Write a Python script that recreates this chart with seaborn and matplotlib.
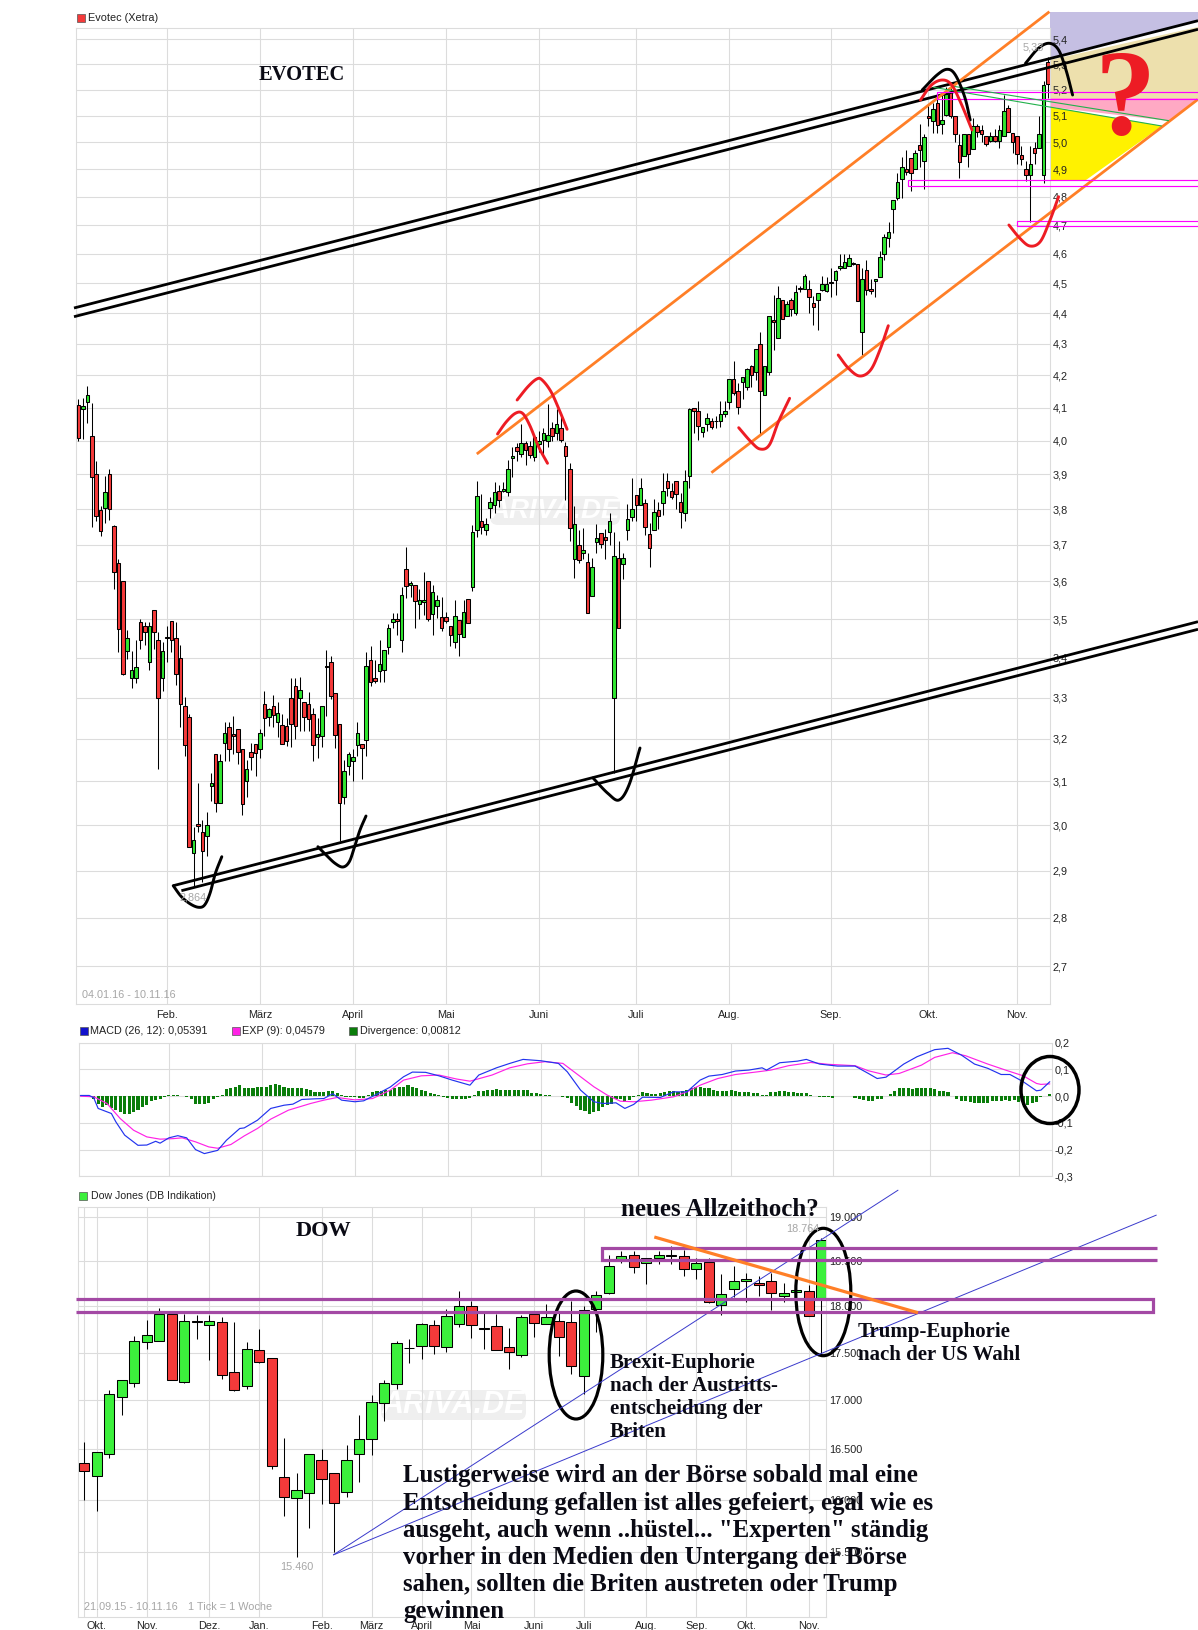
"""Evotec / MACD / Dow Jones candle charts with hand-drawn markup on top."""

import matplotlib
import numpy as np
import pandas as pd
import seaborn as sns

matplotlib.use("Agg")
import matplotlib.pyplot as plt  # noqa: E402
from matplotlib.patches import Ellipse, FancyBboxPatch, Polygon, Rectangle  # noqa: E402
from matplotlib.ticker import NullLocator  # noqa: E402

WIDTH, HEIGHT = 1198, 1630

# Evotec daily candles
evotec_open = [
    4.109, 4.097, 4.118, 4.015, 3.9, 3.797, 3.803, 3.9, 3.752, 3.649,
    3.6, 3.418, 3.35, 3.35, 3.492, 3.482, 3.39, 3.524, 3.445, 3.35,
    3.454, 3.495, 3.45, 3.4, 3.28, 3.253, 2.938, 3.002, 2.986, 2.977,
    3.09, 3.165, 3.05, 3.19, 3.228, 3.212, 3.223, 3.177, 3.1, 3.168,
    3.187, 3.176, 3.286, 3.254, 3.279, 3.24, 3.233, 3.231, 3.3, 3.33,
    3.3, 3.29, 3.285, 3.26, 3.205, 3.208, 3.38, 3.39, 3.312, 3.237,
    3.063, 3.137, 3.148, 3.185, 3.187, 3.197, 3.394, 3.35, 3.367, 3.37,
    3.428, 3.492, 3.5, 3.447, 3.635, 3.59, 3.59, 3.539, 3.545, 3.6,
    3.513, 3.535, 3.505, 3.505, 3.482, 3.44, 3.499, 3.453, 3.552, 3.585,
    3.74, 3.766, 3.74, 3.803, 3.811, 3.851, 3.851, 3.849, 3.948, 3.98,
    3.96, 3.992, 3.983, 3.95, 3.99, 4.001, 4.0, 4.037, 4.022, 4.037,
    3.983, 3.915, 3.662, 3.7, 3.678, 3.652, 3.56, 3.708, 3.734, 3.722,
    3.737, 3.3, 3.665, 3.648, 3.74, 3.777, 3.84, 3.811, 3.817, 3.73,
    3.74, 3.797, 3.817, 3.88, 3.851, 3.88, 3.82, 3.79, 3.895, 4.1,
    4.09, 4.025, 4.05, 4.058, 4.06, 4.058, 4.08, 4.118, 4.19, 4.15,
    4.178, 4.163, 4.23, 4.21, 4.3, 4.14, 4.21, 4.378, 4.32, 4.445,
    4.39, 4.445, 4.4, 4.485, 4.48, 4.48, 4.435, 4.445, 4.477, 4.475,
    4.505, 4.51, 4.55, 4.553, 4.557, 4.569, 4.565, 4.34, 4.545, 4.479,
    4.507, 4.52, 4.6, 4.655, 4.757, 4.797, 4.865, 4.9, 4.94, 4.9,
    4.99, 4.93, 5.1, 5.08, 5.15, 5.07, 5.105, 5.19, 5.1, 4.99,
    4.95, 5.032, 4.975, 5.06, 5.045, 5.025, 5.005, 5.025, 5.005, 5.025,
    5.13, 5.033, 5.025, 4.952, 4.9, 4.88, 4.98, 4.98, 4.88, 5.31,
]
evotec_close = [
    4.008, 4.106, 4.14, 3.892, 3.78, 3.738, 3.849, 3.8, 3.626, 3.474,
    3.36, 3.45, 3.37, 3.378, 3.447, 3.466, 3.482, 3.466, 3.3, 3.418,
    3.45, 3.445, 3.36, 3.286, 3.185, 2.951, 2.968, 2.998, 2.942, 3.0,
    3.097, 3.05, 3.148, 3.215, 3.176, 3.207, 3.168, 3.048, 3.128, 3.158,
    3.166, 3.214, 3.25, 3.273, 3.257, 3.262, 3.187, 3.194, 3.235, 3.231,
    3.319, 3.254, 3.248, 3.185, 3.212, 3.28, 3.376, 3.304, 3.21, 3.05,
    3.124, 3.165, 3.158, 3.214, 3.178, 3.38, 3.34, 3.342, 3.384, 3.42,
    3.478, 3.5, 3.494, 3.565, 3.587, 3.595, 3.548, 3.55, 3.55, 3.5,
    3.572, 3.55, 3.476, 3.495, 3.459, 3.508, 3.462, 3.52, 3.49, 3.736,
    3.837, 3.749, 3.757, 3.82, 3.849, 3.826, 3.857, 3.915, 3.955, 3.968,
    3.992, 3.971, 3.956, 4.01, 4.0, 4.022, 4.016, 4.013, 4.05, 4.003,
    3.953, 3.746, 3.757, 3.658, 3.686, 3.515, 3.64, 3.72, 3.703, 3.714,
    3.766, 3.67, 3.477, 3.665, 3.772, 3.8, 3.811, 3.86, 3.749, 3.69,
    3.792, 3.78, 3.851, 3.86, 3.834, 3.843, 3.792, 3.88, 4.095, 4.09,
    4.044, 4.04, 4.067, 4.04, 4.058, 4.08, 4.09, 4.19, 4.146, 4.103,
    4.194, 4.22, 4.2, 4.285, 4.15, 4.23, 4.39, 4.37, 4.45, 4.38,
    4.43, 4.415, 4.47, 4.481, 4.525, 4.455, 4.42, 4.467, 4.497, 4.497,
    4.501, 4.54, 4.557, 4.573, 4.585, 4.565, 4.44, 4.513, 4.477, 4.475,
    4.513, 4.59, 4.657, 4.675, 4.79, 4.855, 4.91, 4.89, 4.885, 4.96,
    4.97, 5.02, 5.09, 5.125, 5.065, 5.085, 5.185, 5.1, 5.03, 4.925,
    5.032, 4.955, 5.06, 5.04, 5.03, 4.995, 5.025, 5.005, 5.048, 5.118,
    5.04, 5.0, 4.957, 4.937, 4.88, 4.918, 4.96, 5.03, 5.22, 5.224,
]
evotec_high = [
    4.127, 4.13, 4.168, 4.113, 3.94, 3.81, 3.895, 3.915, 3.755, 3.66,
    3.6, 3.472, 3.418, 3.445, 3.5, 3.492, 3.492, 3.524, 3.466, 3.44,
    3.483, 3.495, 3.492, 3.432, 3.303, 3.26, 2.997, 3.096, 3.012, 3.03,
    3.12, 3.165, 3.165, 3.24, 3.24, 3.255, 3.223, 3.177, 3.15, 3.19,
    3.187, 3.225, 3.318, 3.275, 3.306, 3.29, 3.26, 3.25, 3.35, 3.35,
    3.352, 3.29, 3.315, 3.275, 3.25, 3.28, 3.42, 3.406, 3.312, 3.237,
    3.15, 3.17, 3.175, 3.24, 3.187, 3.415, 3.43, 3.395, 3.445, 3.42,
    3.487, 3.515, 3.515, 3.585, 3.693, 3.6, 3.59, 3.58, 3.625, 3.6,
    3.59, 3.565, 3.558, 3.52, 3.482, 3.55, 3.499, 3.55, 3.552, 3.755,
    3.88, 3.843, 3.775, 3.836, 3.879, 3.87, 3.879, 3.943, 3.98, 3.992,
    4.05, 4.0, 4.0, 4.017, 4.03, 4.037, 4.11, 4.055, 4.095, 4.072,
    3.995, 3.935, 3.81, 3.742, 3.748, 3.678, 3.665, 3.757, 3.734, 3.745,
    3.79, 3.735, 3.71, 3.678, 3.814, 3.89, 3.84, 3.89, 3.83, 3.76,
    3.83, 3.82, 3.903, 3.903, 3.875, 3.88, 3.845, 3.913, 4.1, 4.1,
    4.12, 4.042, 4.085, 4.067, 4.075, 4.12, 4.12, 4.19, 4.245, 4.175,
    4.194, 4.223, 4.233, 4.285, 4.34, 4.23, 4.39, 4.46, 4.49, 4.445,
    4.44, 4.45, 4.495, 4.49, 4.53, 4.51, 4.456, 4.467, 4.525, 4.52,
    4.55, 4.545, 4.6, 4.6, 4.6, 4.572, 4.565, 4.55, 4.578, 4.513,
    4.513, 4.61, 4.67, 4.71, 4.79, 4.885, 4.945, 4.97, 4.94, 4.97,
    5.07, 5.03, 5.145, 5.15, 5.17, 5.185, 5.21, 5.23, 5.1, 5.03,
    5.032, 5.03, 5.09, 5.07, 5.065, 5.025, 5.04, 5.05, 5.065, 5.18,
    5.14, 5.033, 5.025, 4.985, 4.93, 4.985, 5.0, 5.1, 5.235, 5.33,
]
evotec_low = [
    3.999, 4.004, 4.053, 3.75, 3.768, 3.725, 3.76, 3.77, 3.58, 3.415,
    3.357, 3.397, 3.325, 3.338, 3.423, 3.433, 3.37, 3.423, 3.13, 3.317,
    3.39, 3.415, 3.332, 3.228, 3.16, 2.951, 2.864, 2.986, 2.875, 2.932,
    3.055, 3.03, 3.05, 3.148, 3.148, 3.165, 3.14, 3.023, 3.065, 3.126,
    3.113, 3.155, 3.207, 3.231, 3.228, 3.204, 3.187, 3.183, 3.18, 3.2,
    3.22, 3.218, 3.22, 3.148, 3.155, 3.18, 3.255, 3.298, 3.178, 2.965,
    3.048, 3.115, 3.1, 3.16, 3.106, 3.16, 3.33, 3.338, 3.34, 3.34,
    3.41, 3.477, 3.46, 3.415, 3.555, 3.558, 3.477, 3.5, 3.512, 3.494,
    3.46, 3.503, 3.468, 3.49, 3.43, 3.425, 3.406, 3.453, 3.49, 3.575,
    3.722, 3.73, 3.727, 3.775, 3.789, 3.806, 3.85, 3.837, 3.893, 3.94,
    3.95, 3.928, 3.948, 3.94, 3.965, 3.957, 3.98, 4.0, 4.003, 3.995,
    3.827, 3.71, 3.61, 3.65, 3.66, 3.515, 3.56, 3.678, 3.69, 3.66,
    3.7, 3.12, 3.477, 3.608, 3.713, 3.767, 3.767, 3.811, 3.728, 3.64,
    3.74, 3.743, 3.783, 3.838, 3.829, 3.8, 3.746, 3.767, 3.86, 4.022,
    4.003, 4.012, 4.028, 4.035, 4.037, 4.04, 4.07, 4.097, 4.14, 4.08,
    4.128, 4.155, 4.165, 4.185, 4.02, 4.14, 4.2, 4.28, 4.32, 4.38,
    4.39, 4.39, 4.395, 4.47, 4.48, 4.4, 4.36, 4.345, 4.475, 4.47,
    4.455, 4.46, 4.546, 4.55, 4.557, 4.563, 4.44, 4.265, 4.46, 4.465,
    4.455, 4.52, 4.58, 4.625, 4.672, 4.79, 4.797, 4.88, 4.82, 4.9,
    4.91, 4.83, 5.06, 5.035, 5.035, 5.03, 5.1, 5.09, 5.0, 4.87,
    4.95, 4.91, 4.975, 5.02, 5.0, 4.985, 5.0, 5.0, 4.98, 5.025,
    5.04, 4.96, 4.92, 4.917, 4.857, 4.71, 4.92, 4.98, 4.85, 5.17,
]
evotec_tick_days = [20, 41, 62, 83, 104, 126, 147, 170, 192, 212]
evotec_tick_labels = ["Feb.", "März", "April", "Mai", "Juni", "Juli", "Aug.", "Sep.", "Okt.", "Nov."]
evotec_price_ticks = [5.4, 5.3, 5.2, 5.1, 5.0, 4.9, 4.8, 4.7, 4.6, 4.5, 4.4, 4.3, 4.2, 4.1,
                      4.0, 3.9, 3.8, 3.7, 3.6, 3.5, 3.4, 3.3, 3.2, 3.1, 3.0, 2.9, 2.8, 2.7]

# MACD panel
macd_days = [0, 2, 3, 4, 7, 8, 10, 13, 15, 17, 18, 20, 22, 24, 26, 28, 31, 33, 36, 37,
             40, 43, 46, 48, 50, 53, 55, 57, 59, 62, 64, 67, 70, 73, 75, 78, 81, 84, 88, 90,
             94, 97, 100, 104, 108, 110, 113, 116, 118, 121, 123, 125, 127, 131, 134, 137, 140, 142, 145, 148,
             151, 154, 155, 158, 162, 164, 167, 171, 175, 178, 180, 182, 186, 189, 193, 196, 199, 202, 205, 208,
             210, 213, 216, 217, 219]
macd_values = [.0025, .0025, -.006, -.046, -.065, -.096, -.146, -.184, -.183, -.169,
               -.176, -.156, -.148, -.156, -.2, -.215, -.203, -.165, -.121, -.119,
               -.09, -.046, -.034, -.03, -.0125, -.01, -.009, .009, -.015, -.021,
               -.0175, .0075, .034, .0725, .09, .089, .076, .06, .041, .079,
               .106, .1225, .1375, .1325, .1225, .091, .0225, -.021, -.0275, -.025,
               -.046, -.031, -.004, -.005, .016, .016, .06, .075, .081, .094,
               .0975, .106, .0975, .125, .131, .1375, .12, .1125, .1125, .085,
               .066, .071, .12, .1475, .174, .179, .154, .12, .104, .081,
               .081, .054, .02, .0225, .05391]
exp_days = [0, 3, 6, 9, 12, 15, 18, 21, 23, 26, 29, 31, 34, 37, 40, 43, 47, 52, 55, 58,
            62, 66, 70, 73, 77, 81, 85, 88, 93, 97, 101, 105, 109, 112, 116, 119, 122, 125, 129, 134,
            137, 140, 144, 148, 153, 156, 160, 165, 169, 175, 178, 182, 185, 190, 193, 197, 200, 205, 209, 213,
            216, 217, 219]
exp_values = [0, -.0025, -.0275, -.084, -.1275, -.1525, -.161, -.159, -.156, -.171,
              -.19, -.195, -.181, -.149, -.121, -.086, -.0525, -.0275, -.015, -.005,
              -.014, -.009, .0225, .06, .076, .079, .064, .056, .079, .106,
              .121, .129, .1225, .085, .035, .004, -.019, -.021, -.015, -.0025,
              .016, .041, .066, .081, .091, .0975, .114, .126, .119, .114,
              .095, .079, .085, .116, .145, .1625, .151, .12, .0975, .076,
              .0475, .044, .04579]
divergence_values = [
    0, 0, -.001, -.012, -.03, -.04, -.035, -.045, -.05, -.058,
    -.068, -.065, -.06, -.05, -.04, -.035, -.02, -.015, -.012, -.005,
    .003, .005, .004, .002, -.003, -.012, -.03, -.03, -.028, -.025,
    -.01, -.003, .004, .025, .032, .036, .04, .03, .032, .032,
    .034, .036, .036, .042, .044, .04, .034, .03, .03, .03,
    .03, .026, .022, .016, .014, .014, .02, .018, .01, .003,
    -.003, -.005, -.005, -.006, -.006, .005, .015, .018, .02, .024,
    .024, .03, .036, .036, .04, .036, .03, .024, .02, .012,
    .008, .003, -.003, -.006, -.01, -.012, -.012, -.01, -.006, .005,
    .018, .02, .022, .024, .025, .022, .022, .022, .022, .022,
    .022, .022, .012, .01, .008, .004, .004, .002, 0, -.002,
    -.008, -.024, -.036, -.05, -.055, -.065, -.06, -.055, -.04, -.035,
    -.03, -.012, -.012, -.022, -.015, -.005, .005, .016, .01, .008,
    .008, .01, .016, .02, .02, .015, .02, .024, .03, .035,
    .035, .032, .03, .024, .02, .018, .02, .024, .02, .014,
    .014, .015, .012, .012, .005, .004, .014, .014, .02, .018,
    .014, .014, .012, .012, .01, .006, .002, -.002, -.004, -.004,
    -.006, 0, .001, .002, .002, -.008, -.012, -.016, -.018, -.02,
    -.012, -.01, 0, .008, .02, .03, .03, .03, .028, .03,
    .03, .032, .03, .025, .02, .018, .015, .001, -.012, -.018,
    -.02, -.022, -.024, -.024, -.024, -.024, -.02, -.018, -.018, -.015,
    -.018, -.016, -.022, -.035, -.034, -.026, -.022, -.004, .002, .00812,
]
macd_ticks = [0.2, 0.1, 0.0, -0.1, -0.2, -0.3]
macd_tick_labels = ["0,2", "0,1", "0,0", "-0,1", "-0,2", "-0,3"]

# Dow Jones weekly candles
dow_open = [
    16363, 16235, 16451, 17035, 17175, 17609, 17620, 17915, 17193, 17836,
    17795, 17830, 17290, 17145, 17533, 17447, 16225, 16020, 16070, 16390,
    16265, 16080, 16450, 16600, 16975, 17165, 17553, 17575, 17795, 17555,
    17805, 18005, 17763, 17785, 17555, 17480, 17915, 17805, 17840, 17830,
    17250, 17970, 18150, 18530, 18575, 18475, 18540, 18575, 18555, 18410,
    18495, 18015, 18190, 18280, 18255, 18280, 18115, 18155, 18170, 18090,
]
dow_close = [
    16281, 16470, 17070, 17206, 17620, 17686, 17915, 17213, 17840, 17830,
    17835, 17260, 17110, 17540, 17405, 16330, 16030, 16097, 16450, 16207,
    15970, 16390, 16610, 16987, 17175, 17600, 17547, 17805, 17575, 17895,
    18005, 17795, 17757, 17530, 17510, 17885, 17815, 17885, 17665, 17355,
    17955, 18120, 18450, 18555, 18440, 18540, 18565, 18555, 18410, 18485,
    18050, 18135, 18280, 18300, 18235, 18145, 18145, 18180, 17895, 18740,
]
dow_high = [
    16574, 16470, 17105, 17206, 17680, 17850, 17982, 17915, 17915, 17905,
    17910, 17885, 17830, 17610, 17755, 17447, 16620, 16270, 16450, 16500,
    16270, 16540, 16850, 17060, 17215, 17625, 17650, 17815, 17850, 17965,
    18170, 18060, 17925, 17915, 17765, 17900, 17945, 18020, 17945, 18060,
    18000, 18170, 18575, 18620, 18620, 18540, 18620, 18670, 18625, 18540,
    18540, 18360, 18450, 18365, 18330, 18370, 18255, 18255, 18235, 18764,
]
dow_low = [
    16003, 15897, 16418, 16850, 17133, 17540, 17620, 17206, 17175, 17650,
    17420, 17225, 17100, 17113, 17390, 16307, 15850, 15460, 15730, 15960,
    15500, 16025, 16180, 16445, 16790, 17120, 17390, 17430, 17485, 17505,
    17780, 17660, 17540, 17530, 17330, 17455, 17670, 17805, 17465, 17275,
    17070, 17720, 18135, 18475, 18370, 18250, 18465, 18465, 18330, 18300,
    18035, 17910, 18100, 18045, 18110, 17955, 18045, 17990, 17895, 17490,
]
dow_grid_weeks = [0, 1, 5, 10, 14, 19, 23, 27, 31, 36, 40, 45, 49, 53, 58]
dow_tick_labels = ["", "Okt.", "Nov.", "Dez.", "Jan.", "Feb.", "März", "April", "Mai", "Juni", "Juli",
                   "Aug.", "Sep.", "Okt.", "Nov."]
dow_price_ticks = [19000, 18500, 18000, 17500, 17000, 16500, 16000, 15500]
dow_price_labels = ["19.000", "18.500", "18.000", "17.500", "17.000", "16.500", "16.000", "15.500"]

# Text written onto the charts
comment_lines = [
    "Lustigerweise wird an der Börse sobald mal eine",
    "Entscheidung gefallen ist alles gefeiert, egal wie es",
    "ausgeht, auch wenn ..hüstel... \"Experten\" ständig",
    "vorher in den Medien den Untergang der Börse",
    "sahen, sollten die Briten austreten oder Trump",
    "gewinnen",
]
brexit_lines = ["Brexit-Euphorie", "nach der Austritts-", "entscheidung der", "Briten"]
trump_lines = ["Trump-Euphorie", "nach der US Wahl"]

RED = "#F43A3A"
GREEN = "#30E630"
DOW_GREEN = "#3CF03C"
GRID = "#DCDCDC"
TEXT = "#222222"
GRAY = "#A6A6A6"
ORANGE = "#FF7F27"
DRAW_RED = "#ED1C24"
MAGENTA = "#FF00FF"
PURPLE = "#A349A4"
LINE_BLUE = "#3A3ACC"
SERIF = "Liberation Serif"


def panel_axes(figure, left, top, right, bottom):
    """Add axes placed by pixel edges."""
    axis = figure.add_axes([
        left / WIDTH,
        1 - bottom / HEIGHT,
        (right - left) / WIDTH,
        (bottom - top) / HEIGHT,
    ])
    axis.set_zorder(2)
    axis.patch.set_alpha(0)
    axis.grid(True, color=GRID, linewidth=0.8)
    axis.set_axisbelow(True)
    for spine in axis.spines.values():
        spine.set_color(GRID)
        spine.set_linewidth(0.8)
    axis.yaxis.tick_right()
    axis.tick_params(length=0, labelsize=7.8, labelcolor=TEXT, pad=2)
    return axis


def draw_candles(axis, opens, highs, lows, closes, up_color, width):
    """Draw wicks and bodies from open/high/low/close lists."""
    frame = pd.DataFrame({"open": opens, "high": highs, "low": lows, "close": closes})
    frame["day"] = np.arange(len(frame))
    axis.vlines(frame["day"], frame["low"], frame["high"], color="black", linewidth=0.75, zorder=3)
    colors = [up_color if c >= o else RED for o, c in zip(frame["open"], frame["close"])]
    bottoms = frame[["open", "close"]].min(axis=1)
    heights = (frame["open"] - frame["close"]).abs()
    axis.bar(frame["day"], heights, bottom=bottoms, width=width, color=colors,
             edgecolor="black", linewidth=0.75, zorder=4)


def log_price_axis(axis, ticks, labels, limits):
    axis.set_yscale("log")
    axis.set_ylim(*limits)
    axis.set_yticks(ticks)
    axis.set_yticklabels(labels)
    axis.yaxis.set_minor_locator(NullLocator())
    axis.xaxis.set_minor_locator(NullLocator())


def swatch(axis, x, y, color, size=7.5):
    axis.add_patch(Rectangle((x, y - size / 2), size, size, facecolor=color, edgecolor="#555555",
                             linewidth=0.5))


def watermark(axis, x0, y0, x1, y1, fontsize):
    axis.add_patch(FancyBboxPatch((x0, y0), x1 - x0, y1 - y0, boxstyle="round,pad=0,rounding_size=8",
                                  facecolor="#EFEFEF", edgecolor="none"))
    axis.text((x0 + x1) / 2, (y0 + y1) / 2, "ARIVA.DE", color="white", fontsize=fontsize, style="italic",
              weight="bold", ha="center", va="center", family="Liberation Sans")


def smooth_path(points, steps=12):
    """Round a hand-drawn stroke through its anchor points (Catmull-Rom)."""
    pts = np.array(points, dtype=float)
    pts = np.vstack([2 * pts[0] - pts[1], pts, 2 * pts[-1] - pts[-2]])
    curve = []
    for p0, p1, p2, p3 in zip(pts[:-3], pts[1:-2], pts[2:-1], pts[3:]):
        for t in np.linspace(0, 1, steps, endpoint=False):
            curve.append(0.5 * (2 * p1 + (p2 - p0) * t + (2 * p0 - 5 * p1 + 4 * p2 - p3) * t ** 2
                                + (3 * p1 - p0 - 3 * p2 + p3) * t ** 3))
    curve.append(pts[-2])
    return np.array(curve)


def main():
    sns.set_theme(style="white")
    plt.rcParams["font.family"] = ["Liberation Sans", "DejaVu Sans"]
    figure = plt.figure(figsize=(WIDTH / 100, HEIGHT / 100), dpi=100, facecolor="white")

    # background layer: coloured zones and watermarks
    back = figure.add_axes([0, 0, 1, 1])
    back.set_xlim(0, WIDTH)
    back.set_ylim(HEIGHT, 0)
    back.axis("off")
    back.set_zorder(0)
    back.add_patch(Polygon([(1050, 12), (1198, 12), (1198, 21), (1050, 58)], facecolor="#C5BFE3", edgecolor="none"))
    back.add_patch(Polygon([(1050, 60), (1198, 27), (1198, 98), (1050, 98)], facecolor="#EDE0AD", edgecolor="none"))
    back.add_patch(Polygon([(1050, 98), (1198, 98), (1169, 121), (1050, 107)], facecolor="#FFA9C4", edgecolor="none"))
    back.add_patch(Polygon([(1051, 107), (1162, 126), (1086, 180), (1051, 180)], facecolor="#FFF200", edgecolor="none"))
    watermark(back, 490, 496, 620, 525, 20)
    watermark(back, 381, 1390, 526, 1420, 22)

    # Evotec
    top = panel_axes(figure, 76.4, 28.3, 1050, 1004.3)
    draw_candles(top, evotec_open, evotec_high, evotec_low, evotec_close, GREEN, 0.8)
    log_price_axis(top, evotec_price_ticks, [f"{v:.1f}".replace(".", ",") for v in evotec_price_ticks],
                   (2.624, 5.445))
    top.set_xlim(-0.47, 219.45)
    top.set_xticks(evotec_tick_days)
    top.set_xticklabels(evotec_tick_labels)
    top.tick_params(axis="x", pad=4)

    # MACD
    mid = panel_axes(figure, 78.6, 1042.7, 1052, 1176.3)
    bars = pd.DataFrame({"day": np.arange(len(divergence_values)), "value": divergence_values})
    sns.barplot(data=bars, x="day", y="value", native_scale=True, color="#0A7D0A", saturation=1,
                width=0.7, linewidth=0, errorbar=None, ax=mid, zorder=3)
    sns.lineplot(x=exp_days, y=exp_values, color="#FF22E6", linewidth=0.85, errorbar=None, ax=mid, zorder=4)
    sns.lineplot(x=macd_days, y=macd_values, color="#2233EE", linewidth=0.85, errorbar=None, ax=mid, zorder=5)
    mid.set_xlim(-0.41, 219.5)
    mid.set_ylim(-0.3, 0.2)
    mid.set_yticks(macd_ticks)
    mid.set_yticklabels(macd_tick_labels)
    mid.set_xticks(evotec_tick_days)
    mid.set_xticklabels([])
    mid.set_xlabel("")
    mid.set_ylabel("")

    # Dow Jones
    low = panel_axes(figure, 78.2, 1206.7, 826.4, 1616.7)
    draw_candles(low, dow_open, dow_high, dow_low, dow_close, DOW_GREEN, 0.82)
    log_price_axis(low, dow_price_ticks, dow_price_labels, (14905, 19123))
    low.set_xlim(-0.488, 59.42)
    low.set_xticks(dow_grid_weeks)
    low.set_xticklabels(dow_tick_labels)
    low.tick_params(axis="x", pad=3)

    # markup layer in pixel coordinates
    draw = figure.add_axes([0, 0, 1, 1])
    draw.set_xlim(0, WIDTH)
    draw.set_ylim(HEIGHT, 0)
    draw.axis("off")
    draw.set_zorder(5)
    draw.patch.set_alpha(0)

    def stroke(points, color="black", width=2.0):
        xs, ys = zip(*points)
        draw.plot(xs, ys, color=color, linewidth=width, solid_capstyle="butt", solid_joinstyle="miter")

    def arc(points, color="black", width=2.1):
        curve = smooth_path(points)
        draw.plot(curve[:, 0], curve[:, 1], color=color, linewidth=width, solid_capstyle="round")

    def label(x, y, text, size=7.8, color=TEXT, **kwargs):
        draw.text(x, y, text, fontsize=size, color=color, va="center", **kwargs)

    def serif(x, y, text, size):
        draw.text(x, y + 2.5, text, fontsize=size, color="#0A0A14", family=SERIF, weight="bold", va="center")

    # panel captions
    swatch(draw, 77, 18, RED)
    label(88.5, 18, "Evotec (Xetra)")
    swatch(draw, 80, 1031, "#1111CC")
    label(90.5, 1031, "MACD (26, 12): 0,05391")
    swatch(draw, 232, 1031, "#FF22E6")
    label(242.5, 1031, "EXP (9): 0,04579")
    swatch(draw, 349, 1031, "#0A7D0A")
    label(359.7, 1031, "Divergence: 0,00812")
    swatch(draw, 79, 1196, DOW_GREEN)
    label(91, 1196, "Dow Jones (DB Indikation)", size=7.6)

    label(82, 995, "04.01.16 - 10.11.16", color=GRAY)
    label(84.3, 1607, "21.09.15 - 10.11.16", color=GRAY)
    label(187.5, 1607, "1 Tick = 1 Woche", color=GRAY)
    label(193, 898, "2,864", color=GRAY, ha="center")
    label(1033, 47, "5,33", color=GRAY, ha="center")
    label(296.4, 1567, "15.460", color=GRAY, ha="center")
    label(803, 1229, "18.764", color=GRAY, ha="center")

    # Evotec trend channels
    stroke([(74, 308), (1198, 20.7)])
    stroke([(74, 316.7), (1198, 29.3)])
    stroke([(173.2, 885.7), (1198, 621.7)])
    stroke([(181.4, 890.7), (1198, 629.3)])
    stroke([(476.8, 454), (1049.4, 11.7)], color=ORANGE)
    stroke([(711.4, 472.7), (1198, 99.3)], color=ORANGE)

    # support and resistance boxes
    for x0, y0, y1 in [(937, 92.3, 98.7), (907.5, 180.3, 185.7), (1017.3, 221.3, 226.3)]:
        stroke([(1198, y0), (x0, y0), (x0, y1), (1198, y1)], color=MAGENTA, width=0.85)
    stroke([(933.3, 87.3), (1161.8, 126)], color="#22B14C", width=0.8)
    stroke([(951.7, 86), (1169, 120.7)], color="#22B14C", width=0.8)

    # hand-drawn arcs
    arc([(173.2, 885.7), (181.4, 896.7), (190.4, 904), (198.6, 907.3), (204.6, 905),
         (210, 893.3), (215.4, 873.3), (221.8, 856.7)])
    arc([(317.9, 846.7), (326.1, 855), (335, 863.3), (342.9, 867), (349.3, 861.7),
         (354.6, 846.7), (360, 830), (366, 816)])
    arc([(593, 778), (608, 793.5), (619, 800), (629, 785), (640, 748)])
    arc([(922.2, 90), (937, 75), (947.3, 69.3), (955.4, 75), (964.6, 96.7), (970.2, 120)])
    arc([(1025.5, 63.3), (1038.4, 48.3), (1049.4, 43.3), (1058.6, 50), (1066, 70), (1072.6, 95)])
    arc([(497.5, 434), (506.4, 421.7), (515.4, 413.3), (522.5, 413.3), (529.6, 425),
         (538.6, 446.7), (547.5, 463.3)], color=DRAW_RED)
    arc([(517.1, 400), (527.9, 386.7), (536.8, 379), (542.1, 380), (551, 391.7),
         (560, 411.7), (567.1, 429.3)], color=DRAW_RED)
    arc([(738.7, 427.7), (750.9, 441.7), (760, 449), (769.3, 445), (778.5, 421.7),
         (789.6, 398.3)], color=DRAW_RED)
    arc([(838.2, 355), (848.5, 368.3), (859.6, 376), (870.6, 370), (879.9, 350),
         (888.3, 325.7)], color=DRAW_RED)
    arc([(1008.9, 225), (1019.9, 238.3), (1029.9, 246), (1040.2, 241.7), (1049.4, 221.7),
         (1058.6, 196.7)], color=DRAW_RED)
    arc([(920.4, 100), (931.5, 85), (942.5, 80), (951.7, 85), (961, 103.3), (972, 130)],
        color=DRAW_RED)

    draw.text(1125, 104.5, "?", fontsize=88, color=DRAW_RED, family=SERIF, weight="bold", ha="center", va="center")
    draw.add_patch(Ellipse((1050, 1090), 58, 67, fill=False, edgecolor="black", linewidth=2.5))

    # Dow markup
    stroke([(333.2, 1555), (898.3, 1190)], color=LINE_BLUE, width=0.7)
    stroke([(333.2, 1555), (1156.6, 1215)], color=LINE_BLUE, width=0.7)
    stroke([(76, 1299.3), (1153, 1299.3), (1153, 1312.3), (76, 1312.3)], color=PURPLE, width=2.3)
    stroke([(1156.6, 1248.3), (601.9, 1248.3), (601.9, 1260.3), (1156.6, 1260.3)], color=PURPLE, width=2.3)
    stroke([(654.3, 1237), (917.9, 1312.7)], color=ORANGE, width=2.3)
    draw.add_patch(Ellipse((576, 1355), 53.6, 128, fill=False, edgecolor="black", linewidth=2.3))
    draw.add_patch(Ellipse((823.3, 1292), 55, 127.4, fill=False, edgecolor="black", linewidth=2.3))

    # written comments
    serif(259, 73, "EVOTEC", 14.8)
    serif(295.5, 1229, "DOW", 16)
    serif(621, 1207, "neues Allzeithoch?", 18)
    for line, y in zip(brexit_lines, [1360.7, 1383.3, 1406.7, 1429.3]):
        serif(609.6, y, line, 15)
    for line, y in zip(trump_lines, [1329.7, 1352.3]):
        serif(858, y, line, 15)
    for line, y in zip(comment_lines, [1473.3, 1500.7, 1527.7, 1554.7, 1581.7, 1608.7]):
        serif(402.9, y, line, 17.9)

    figure.savefig("out.png", dpi=100)
    plt.close(figure)


if __name__ == "__main__":
    main()
